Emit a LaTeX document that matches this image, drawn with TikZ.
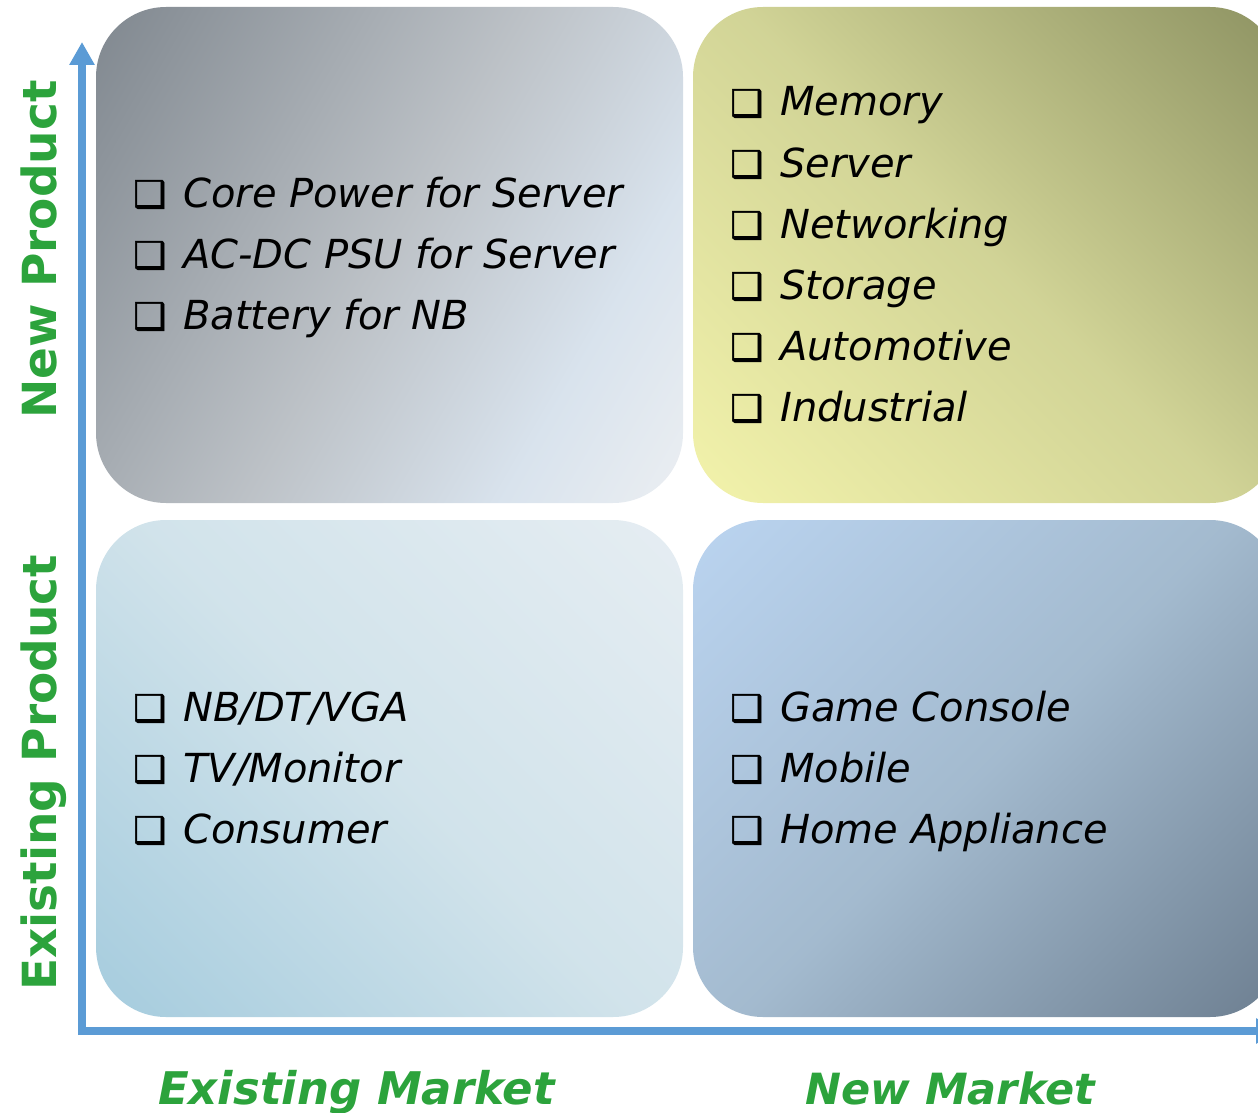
\documentclass[tikz,border=0pt]{standalone}
\usepackage{fontspec}
\setmainfont{DejaVu Sans}
\newfontfamily\cbfont[FakeBold=1.5]{DejaVu Sans}
\usetikzlibrary{arrows.meta}
\definecolor{axisblue}{HTML}{5B9BD5}
\definecolor{lblgreen}{HTML}{2CA33C}
\pgfdeclarehorizontalshading{shTL}{100bp}{
  rgb(0bp)=(0.49,0.52,0.55); rgb(14bp)=(0.49,0.52,0.55); rgb(50bp)=(0.74,0.76,0.78);
  rgb(70bp)=(0.85,0.89,0.93); rgb(86bp)=(0.93,0.94,0.95); rgb(100bp)=(0.93,0.94,0.95)}
\pgfdeclarehorizontalshading{shTR}{100bp}{
  rgb(0bp)=(0.95,0.95,0.67); rgb(15bp)=(0.95,0.95,0.67); rgb(50bp)=(0.82,0.83,0.59);
  rgb(85bp)=(0.56,0.58,0.39); rgb(100bp)=(0.56,0.58,0.39)}
\pgfdeclarehorizontalshading{shBL}{100bp}{
  rgb(0bp)=(0.65,0.80,0.87); rgb(15bp)=(0.65,0.80,0.87); rgb(50bp)=(0.82,0.89,0.92);
  rgb(85bp)=(0.90,0.93,0.95); rgb(100bp)=(0.90,0.93,0.95)}
\pgfdeclarehorizontalshading{shBR}{100bp}{
  rgb(0bp)=(0.73,0.83,0.94); rgb(15bp)=(0.73,0.83,0.94); rgb(50bp)=(0.64,0.73,0.81);
  rgb(85bp)=(0.43,0.50,0.57); rgb(100bp)=(0.43,0.50,0.57)}
\tikzset{
  quad/.style={rounded corners=70pt, draw=none},
  item/.style={anchor=base west, inner sep=0pt, font=\fontsize{40}{48}\selectfont\itshape},
  cbox/.style={anchor=base west, inner sep=0pt, font=\fontsize{37}{44}\cbfont},
  axislbl/.style={inner sep=0pt, text=lblgreen, font=\fontsize{47}{56}\selectfont\bfseries},
  mktlbl/.style={inner sep=0pt, text=lblgreen, anchor=base west, font=\fontsize{45}{54}\selectfont\bfseries\itshape},
  axisline/.style={draw=axisblue, line width=8pt, -{Triangle[width=24pt,length=23pt]}}
}
\begin{document}
\begin{tikzpicture}[x=1pt,y=-1pt]
\useasboundingbox (0,0) rectangle (1258,1113);
\begin{scope}
\clip (0,0) rectangle (1258,1113);
\shade[quad, shading=shTL, shading angle=-30] (96,7) rectangle (683,503);
\shade[quad, shading=shTR, shading angle=45] (693,7) rectangle (1280,503);
\shade[quad, shading=shBL, shading angle=45] (96,520) rectangle (683,1017);
\shade[quad, shading=shBR, shading angle=-45] (693,520) rectangle (1280,1017);
\coordinate (ytip) at (82,42);
\coordinate (xtip) at (1279,1031);
\coordinate (ybase) at (82,1035);
\coordinate (xbase) at (78,1031);
\draw[axisline] (ybase) -- (ytip);
\draw[axisline] (xbase) -- (xtip);
\end{scope}
% top-left
\node[cbox] (c1) at (133,207) {❑};
\node[item] (t1) at (183,207) {Core Power for Server};
\node[cbox] (c2) at (133,268) {❑};
\node[item] (t2) at (183,268) {AC-DC PSU for Server};
\node[cbox] (c3) at (133,329) {❑};
\node[item] (t3) at (183,329) {Battery for NB};
% top-right
\node[cbox] (c4) at (730,116) {❑};
\node[item] (t4) at (780,116) {Memory};
\node[cbox] (c5) at (730,177) {❑};
\node[item] (t5) at (780,177) {Server};
\node[cbox] (c6) at (730,238) {❑};
\node[item] (t6) at (780,238) {Networking};
\node[cbox] (c7) at (730,299) {❑};
\node[item] (t7) at (780,299) {Storage};
\node[cbox] (c8) at (730,360) {❑};
\node[item] (t8) at (780,360) {Automotive};
\node[cbox] (c9) at (730,421) {❑};
\node[item] (t9) at (780,421) {Industrial};
% bottom-left
\node[cbox] (c10) at (133,721) {❑};
\node[item] (t10) at (183,721) {NB/DT/VGA};
\node[cbox] (c11) at (133,782) {❑};
\node[item] (t11) at (183,782) {TV/Monitor};
\node[cbox] (c12) at (133,843) {❑};
\node[item] (t12) at (183,843) {Consumer};
% bottom-right
\node[cbox] (c13) at (730,721) {❑};
\node[item] (t13) at (780,721) {Game Console};
\node[cbox] (c14) at (730,782) {❑};
\node[item] (t14) at (780,782) {Mobile};
\node[cbox] (c15) at (730,843) {❑};
\node[item] (t15) at (780,843) {Home Appliance};
% axis labels
\node[axislbl, anchor=base west, rotate=90] (np) at (56,419) {New Product};
\node[axislbl, anchor=base west, rotate=90] (ep) at (56,991) {Existing Product};
\node[mktlbl] (em) at (158,1104) {Existing Market};
\node[mktlbl, font=\fontsize{43}{52}\selectfont\bfseries\itshape] (nm) at (805,1104) {New Market};
\end{tikzpicture}
\end{document}
